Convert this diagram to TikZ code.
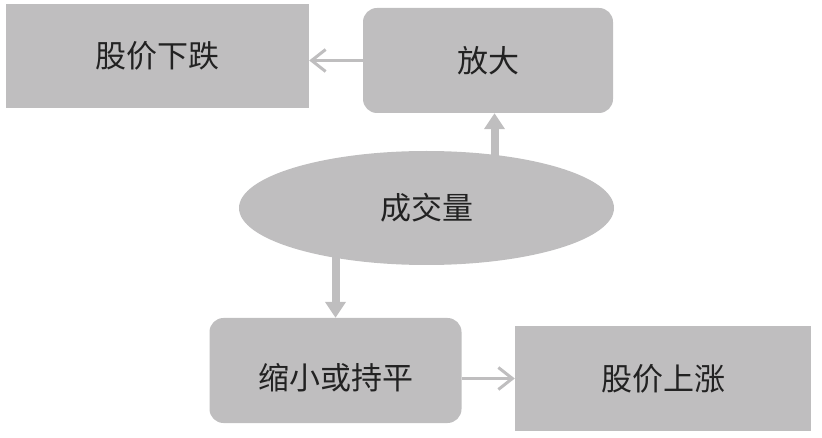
\documentclass[tikz,border=0pt]{standalone}
\usepackage{fontspec}
\setmainfont{Noto Sans CJK SC}
\usepackage{xcolor}
\usetikzlibrary{arrows.meta,shapes.geometric}
\definecolor{boxgray}{HTML}{BFBEBF}
\definecolor{txtgray}{HTML}{222222}

\begin{document}
\begin{tikzpicture}[x=1pt,y=-1pt,
  box/.style={fill=boxgray,text=txtgray,font=\fontsize{31}{36}\selectfont,inner sep=0pt},
  sqbox/.style={box,rectangle},
  rndbox/.style={box,rectangle,rounded corners=14pt},
  thin arrow/.style={draw=boxgray,line width=3pt,-{Straight Barb[length=14pt,width=22pt]}},
  thick arrow/.style={draw=boxgray,line width=8pt,-{Triangle[length=16pt,width=20pt]}}]
  \useasboundingbox (0,0) rectangle (822,438);
  % boxes
  \node[sqbox,minimum width=303pt,minimum height=104pt] (fall) at (157.5,56) {股价下跌};
  \node[rndbox,minimum width=250pt,minimum height=105pt] (grow) at (488,60.5) {放大};
  \node[box,ellipse,minimum width=375pt,minimum height=114pt] (vol) at (426.5,208) {成交量};
  \node[rndbox,minimum width=252pt,minimum height=105pt,text height=38pt,text depth=1pt] (shrink) at (335.5,370.5) {缩小或持平};
  \node[sqbox,minimum width=296pt,minimum height=105pt] (rise) at (663,378.5) {股价上涨};
  % connectors
  \draw[thick arrow] ([xshift=6.5pt]grow.south |- vol.center) -- ([xshift=6.5pt]grow.south);
  \draw[thick arrow] (vol.center -| shrink.north) -- (shrink.north);
  \draw[thin arrow] (grow.west) -- (grow.west -| fall.east);
  \draw[thin arrow] (shrink.east |- rise.west) -- (rise.west);
\end{tikzpicture}
\end{document}
